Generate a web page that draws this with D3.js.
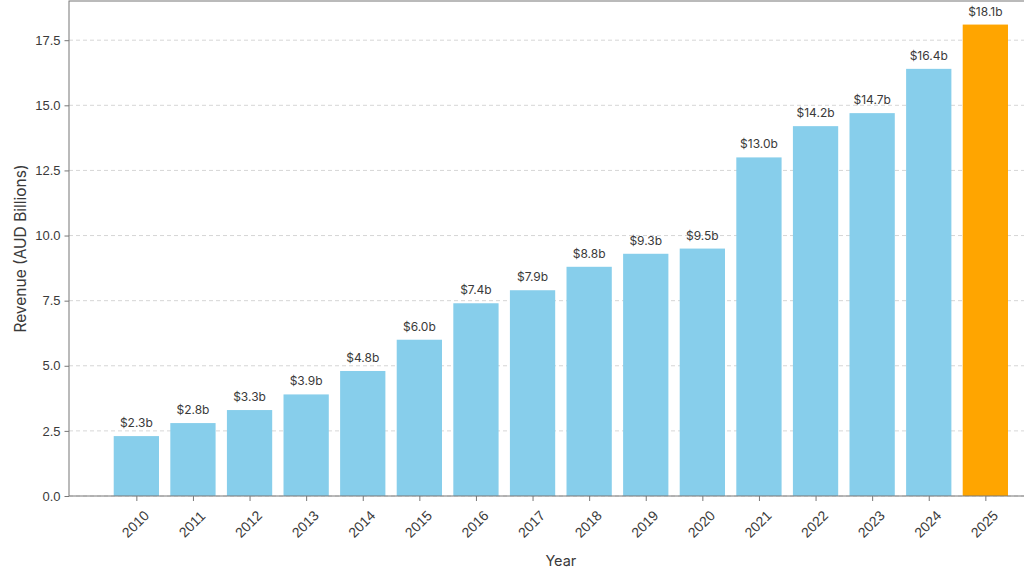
<!DOCTYPE html>
<html>
<head>
<meta charset="utf-8">
<script src="https://cdn.jsdelivr.net/npm/d3@7"></script>
<style>
  body { margin: 0; background: #fff; }
  svg { display: block; font-family: "Inter", "Noto Sans", sans-serif; }
</style>
</head>
<body>
<svg id="chart" width="1024" height="576"></svg>
<script>
// revenue by year, AUD billions
const years = ["2010", "2011", "2012", "2013", "2014", "2015", "2016", "2017",
  "2018", "2019", "2020", "2021", "2022", "2023", "2024", "2025"];
const revenue = [2.3, 2.8, 3.3, 3.9, 4.8, 6.0, 7.4, 7.9, 8.8, 9.3, 9.5, 13.0, 14.2, 14.7, 16.4, 18.1];
const yTicks = [0, 2.5, 5, 7.5, 10, 12.5, 15, 17.5];
const highlightYear = "2025";

const svg = d3.select("#chart");
const plotLeft = 69, plotTop = 1, plotBottom = 496, plotRight = 1052.7;
const textColor = "#3a3a3a";
const spineColor = "#777";

// index scale with matplotlib-like margins around the bars
const n = years.length;
const x = d3.scaleLinear().domain([-1.19, n - 1 + 1.19]).range([plotLeft, plotRight]);
const bw = (x(0.8) - x(0));
const y = d3.scaleLinear().domain([0, d3.max(revenue) * 1.05]).range([plotBottom, plotTop]);

// grid
svg.append("g")
  .selectAll("line")
  .data(yTicks)
  .join("line")
  .attr("x1", plotLeft).attr("x2", plotRight)
  .attr("y1", d => y(d)).attr("y2", d => y(d))
  .attr("stroke", "#ccc")
  .attr("stroke-width", 0.8)
  .attr("stroke-dasharray", "4,3");

// bars
svg.append("g")
  .selectAll("rect")
  .data(revenue)
  .join("rect")
  .attr("x", (d, i) => x(i) - bw / 2)
  .attr("width", bw)
  .attr("y", d => y(d))
  .attr("height", d => plotBottom - y(d))
  .attr("fill", (d, i) => years[i] === highlightYear ? "#FFA500" : "#87CEEB");

// value labels
svg.append("g")
  .selectAll("text")
  .data(revenue)
  .join("text")
  .attr("x", (d, i) => x(i))
  .attr("y", d => y(d) - 9)
  .attr("text-anchor", "middle")
  .attr("font-size", 12)
  .attr("fill", textColor)
  .text(d => `$${d.toFixed(1)}b`);

// y axis
const yAxis = svg.append("g")
  .attr("transform", `translate(${plotLeft},0)`)
  .call(d3.axisLeft(y).tickValues(yTicks).tickFormat(d3.format(".1f")).tickSize(4.5).tickPadding(4));
yAxis.select(".domain").remove();
yAxis.selectAll("line").attr("stroke", spineColor);
yAxis.selectAll("text").attr("font-size", 13).attr("fill", textColor).attr("font-family", null);

// x axis
const xAxis = svg.append("g")
  .attr("transform", `translate(0,${plotBottom})`)
  .call(d3.axisBottom(x).tickValues(d3.range(n)).tickFormat(i => years[i]).tickSize(5));
xAxis.select(".domain").remove();
xAxis.selectAll("line").attr("stroke", spineColor);
xAxis.selectAll("text")
  .attr("font-size", 14)
  .attr("fill", textColor)
  .attr("font-family", null)
  .attr("text-anchor", "middle")
  .attr("dy", null)
  .attr("y", 0)
  .attr("transform", "translate(-1.5,28) rotate(-45)")
  .attr("dominant-baseline", "central");

// spines
svg.append("rect")
  .attr("x", plotLeft).attr("y", plotTop)
  .attr("width", plotRight - plotLeft).attr("height", plotBottom - plotTop)
  .attr("fill", "none")
  .attr("stroke", spineColor)
  .attr("stroke-width", 1);

// axis titles
svg.append("text")
  .attr("x", (plotLeft + plotRight) / 2)
  .attr("y", 566)
  .attr("text-anchor", "middle")
  .attr("font-size", 14.5)
  .attr("fill", textColor)
  .text("Year");

svg.append("text")
  .attr("transform", `translate(26,${(plotTop + plotBottom) / 2}) rotate(-90)`)
  .attr("text-anchor", "middle")
  .attr("font-size", 15.5)
  .attr("fill", textColor)
  .text("Revenue (AUD Billions)");
</script>
</body>
</html>
